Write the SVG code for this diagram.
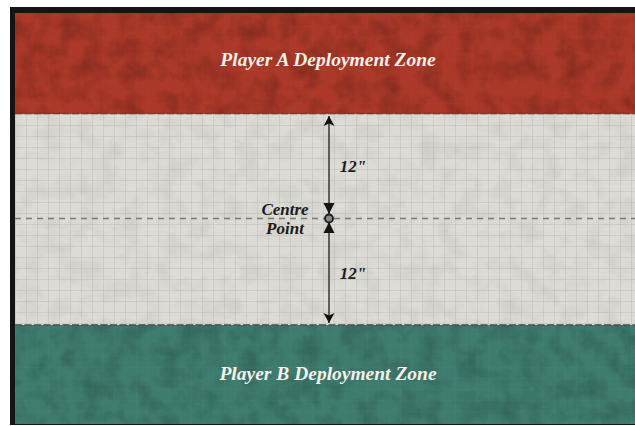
<svg xmlns="http://www.w3.org/2000/svg" width="635" height="426" viewBox="0 0 635 426">
  <style>
    .zone-label { font-family: "Liberation Serif", "DejaVu Serif", serif; font-weight: bold; font-style: italic; font-size: 19.5px; fill: #f4f0ea; text-anchor: middle; }
    .dim-label { font-family: "Liberation Serif", "DejaVu Serif", serif; font-weight: bold; font-style: italic; font-size: 17px; fill: #1c1c1c; text-anchor: middle; }
    .grid { stroke: #9a9a96; stroke-width: 0.6; fill: none; }
    .edge { fill: none; stroke-width: 1.6; stroke-dasharray: 7 2.5; }
  </style>
  <defs>
    <pattern id="gridpat" width="11" height="11" patternUnits="userSpaceOnUse" x="4" y="4">
      <path d="M11 0 L0 0 0 11" class="grid"/>
    </pattern>
    <filter id="grunge" x="0" y="0" width="100%" height="100%">
      <feTurbulence type="fractalNoise" baseFrequency="0.05" numOctaves="4" seed="3" result="n"/>
      <feColorMatrix type="matrix" values="0 0 0 0 0  0 0 0 0 0  0 0 0 0 0  1.4 0 0 0 -0.55"/>
    </filter>
    <marker id="arrow" viewBox="0 0 10 14" refX="10" refY="7" markerWidth="10" markerHeight="14" markerUnits="userSpaceOnUse" orient="auto-start-reverse">
      <path d="M0 1.5 L10 7 L0 12.5 L2.5 7 Z" fill="#111"/>
    </marker>
  </defs>

  <rect width="635" height="426" fill="#ffffff"/>

  <g id="board">
    <rect x="10" y="7" width="625" height="418" fill="#141414"/>
  </g>

  <g id="zone-a">
    <rect x="15" y="13" width="620" height="101" fill="#ab3828"/>
    <rect x="15" y="13" width="620" height="101" fill="#000" opacity="0.3" filter="url(#grunge)"/>
    <rect x="15" y="13" width="620" height="101" fill="url(#gridpat)" opacity="0.1"/>
  </g>

  <g id="neutral">
    <rect x="15" y="114" width="620" height="211" fill="#dcdbd5"/>
    <rect x="15" y="114" width="620" height="211" fill="#000" opacity="0.08" filter="url(#grunge)"/>
    <rect x="15" y="114" width="620" height="211" fill="url(#gridpat)" opacity="0.75"/>
  </g>

  <g id="zone-b">
    <rect x="15" y="325" width="620" height="99" fill="#3e7c6e"/>
    <rect x="15" y="325" width="620" height="99" fill="#000" opacity="0.25" filter="url(#grunge)"/>
    <rect x="15" y="325" width="620" height="99" fill="url(#gridpat)" opacity="0.18"/>
  </g>

  <g id="edges">
    <line x1="15" y1="113.5" x2="635" y2="113.5" class="edge" stroke="#7a3a2e"/>
    <line x1="15" y1="325" x2="635" y2="325" class="edge" stroke="#4a4f4a"/>
  </g>

  <g id="connectors">
    <line x1="15" y1="218.5" x2="635" y2="218.5" stroke="#7a7a76" stroke-width="1.4" stroke-dasharray="6 5"/>
    <line x1="329" y1="116" x2="329" y2="323" stroke="#2a2a2a" stroke-width="1.4" marker-start="url(#arrow)" marker-end="url(#arrow)"/>
  </g>

  <g id="centre-point">
    <path d="M323.5 203 L334.5 203 L329 214 Z" fill="#151515"/>
    <path d="M323.5 233 L334.5 233 L329 222 Z" fill="#151515"/>
    <circle cx="329" cy="218.5" r="4" fill="#8a8a86" stroke="#1a1a1a" stroke-width="1.8"/>
  </g>

  <g id="labels">
    <text class="zone-label" x="328" y="66">Player A Deployment Zone</text>
    <text class="zone-label" x="328" y="380">Player B Deployment Zone</text>
    <text class="dim-label" x="353" y="172">12"</text>
    <text class="dim-label" x="353" y="279">12"</text>
    <text class="dim-label" x="285" y="215">Centre</text>
    <text class="dim-label" x="285" y="234">Point</text>
  </g>
</svg>
